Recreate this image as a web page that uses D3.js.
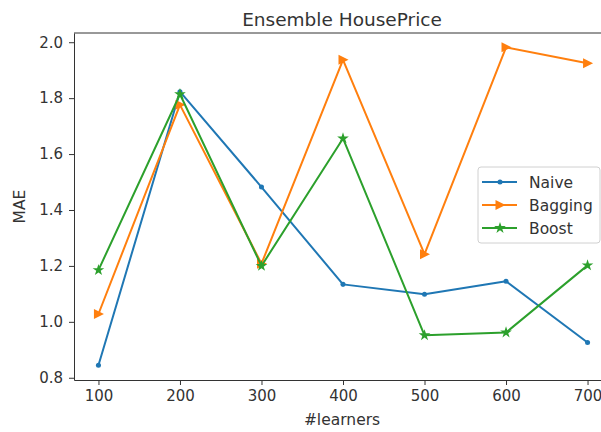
<!DOCTYPE html>
<html>
<head>
<meta charset="utf-8">
<script src="https://cdn.jsdelivr.net/npm/d3@7"></script>
<style>
  body { margin: 0; background: #fff; }
  text { font-family: "DejaVu Sans", sans-serif; fill: #333; }
</style>
</head>
<body>
<div id="chart-area"></div>
<script>
// data
const learners = [100, 200, 300, 400, 500, 600, 700];
const naive = [0.845, 1.823, 1.482, 1.134, 1.099, 1.145, 0.926];
const bagging = [1.028, 1.776, 1.208, 1.937, 1.242, 1.982, 1.925];
const boost = [1.185, 1.814, 1.2, 1.656, 0.952, 0.962, 1.202];
const seriesNames = ["Naive", "Bagging", "Boost"];
const yTicks = [0.8, 1.0, 1.2, 1.4, 1.6, 1.8, 2.0];

const colors = ["#1f77b4", "#ff7f0e", "#2ca02c"];
const shapes = ["dot", "tri", "star"];

const w = 601;
const h = 432;
const m = { t: 33, l: 74, r: -11, b: 52 };
const width = w - m.l - m.r;
const height = h - m.t - m.b;

let svg = d3.select("#chart-area")
  .append("svg")
  .attr("width", w)
  .attr("height", h);

let g = svg.append("g")
  .attr("transform", "translate(" + m.l + "," + m.t + ")");

let x = d3.scaleLinear()
  .domain([70, 730])
  .range([0, width]);

let y = d3.scaleLinear()
  .domain([0.792, 2.033])
  .range([height, 0]);

// axes
let xAxis = g.append("g")
  .attr("transform", "translate(0," + height + ")")
  .call(d3.axisBottom(x).tickValues(learners).tickSize(5).tickPadding(5).tickSizeOuter(0));

let yAxis = g.append("g")
  .call(d3.axisLeft(y).tickValues(yTicks).tickFormat(d3.format(".1f")).tickSize(5).tickPadding(6).tickSizeOuter(0));

[xAxis, yAxis].forEach(a => {
  a.selectAll("text").attr("font-size", "15px").attr("font-family", "DejaVu Sans").style("fill", "#333");
  a.selectAll("line").attr("stroke", "#333");
  a.select(".domain").attr("stroke", "#333");
});

// top spine
g.append("line")
  .attr("x1", 0).attr("x2", width)
  .attr("y1", 0).attr("y2", 0)
  .attr("stroke", "#333");

// marker path maker
function markerPath(shape) {
  if (shape === "dot") return d3.symbol().type(d3.symbolCircle).size(20)();
  if (shape === "star") return d3.symbol().type(d3.symbolStar).size(42)();
  return "M-4.5,-5L5.5,0L-4.5,5Z";
}

const data = [naive, bagging, boost];

const line = d3.line()
  .x((d, i) => x(learners[i]))
  .y(d => y(d));

data.forEach((vals, k) => {
  g.append("path")
    .datum(vals)
    .attr("fill", "none")
    .attr("stroke", colors[k])
    .attr("stroke-width", 2)
    .attr("stroke-linejoin", "round")
    .attr("d", line);

  g.selectAll(".mk" + k)
    .data(vals)
    .enter().append("path")
    .attr("class", "mk" + k)
    .attr("transform", (d, i) => "translate(" + x(learners[i]) + "," + y(d) + ")")
    .attr("d", markerPath(shapes[k]))
    .attr("fill", colors[k]);
});

// title + labels
svg.append("text")
  .attr("x", 342)
  .attr("y", 26)
  .attr("text-anchor", "middle")
  .attr("font-size", "18.5px")
  .text("Ensemble HousePrice");

svg.append("text")
  .attr("x", 342)
  .attr("y", 425)
  .attr("text-anchor", "middle")
  .attr("font-size", "15.5px")
  .text("#learners");

svg.append("text")
  .attr("transform", "translate(25," + (m.t + height / 2) + ") rotate(-90)")
  .attr("text-anchor", "middle")
  .attr("font-size", "15.5px")
  .text("MAE");

// legend
let legend = svg.append("g")
  .attr("transform", "translate(478,167)");

legend.append("rect")
  .attr("width", 122)
  .attr("height", 76)
  .attr("rx", 3)
  .attr("fill", "#fff")
  .attr("fill-opacity", 0.8)
  .attr("stroke", "#d0d0d0");

seriesNames.forEach((name, k) => {
  let row = legend.append("g")
    .attr("transform", "translate(0," + (15 + k * 23) + ")");
  row.append("line")
    .attr("x1", 4).attr("x2", 39)
    .attr("stroke", colors[k])
    .attr("stroke-width", 2);
  row.append("path")
    .attr("transform", "translate(22,0)")
    .attr("d", markerPath(shapes[k]))
    .attr("fill", colors[k]);
  row.append("text")
    .attr("x", 51)
    .attr("y", 5.5)
    .attr("font-size", "15.5px")
    .text(name);
});
</script>
</body>
</html>
